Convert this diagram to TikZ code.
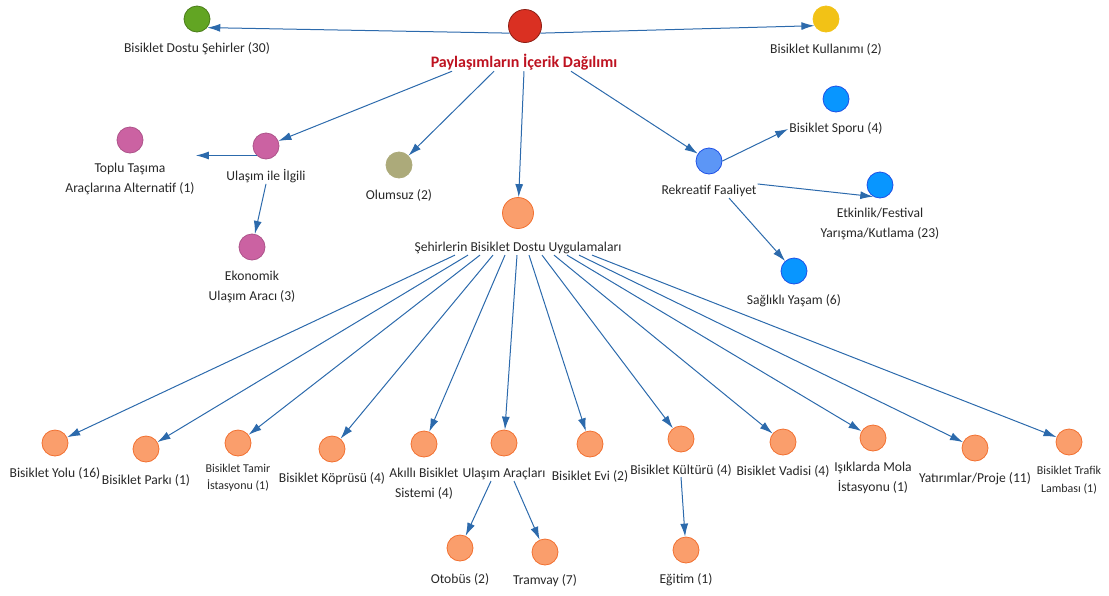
\documentclass[tikz,border=0pt]{standalone}
\usepackage{fontspec}
\setmainfont{Carlito}
\usetikzlibrary{arrows.meta}
\definecolor{linkblue}{RGB}{44,106,172}
\definecolor{textgray}{RGB}{40,40,40}
\definecolor{rootred}{RGB}{218,48,34}
\definecolor{rootline}{RGB}{140,30,20}
\definecolor{roottext}{RGB}{190,18,32}
\definecolor{leafgreen}{RGB}{98,165,35}
\definecolor{leafyellow}{RGB}{242,194,22}
\definecolor{leafpink}{RGB}{203,98,162}
\definecolor{leafolive}{RGB}{172,170,122}
\definecolor{leaforange}{RGB}{250,158,108}
\definecolor{orangeline}{RGB}{242,112,48}
\definecolor{rekblue}{RGB}{92,150,246}
\definecolor{skyblue}{RGB}{8,150,255}
\definecolor{blueline}{RGB}{30,80,230}
\tikzstyle{vertex}=[circle, minimum size=26pt, inner sep=0pt, line width=0.8pt]
\tikzstyle{rootv}=[vertex, minimum size=33pt, fill=rootred, draw=rootline]
\tikzstyle{greenv}=[vertex, fill=leafgreen, draw=leafgreen!75!black]
\tikzstyle{yellowv}=[vertex, fill=leafyellow, draw=leafyellow]
\tikzstyle{pinkv}=[vertex, fill=leafpink, draw=leafpink!85!black]
\tikzstyle{olivev}=[vertex, fill=leafolive, draw=leafolive]
\tikzstyle{orangev}=[vertex, fill=leaforange, draw=orangeline]
\tikzstyle{rekv}=[vertex, fill=rekblue, draw=blueline]
\tikzstyle{bluev}=[vertex, fill=skyblue, draw=blueline]
\tikzstyle{nodetext}=[font=\fontsize{13.6}{20}\selectfont, text=textgray, align=center, inner sep=1pt]
\tikzstyle{smalltext}=[nodetext, font=\fontsize{12}{17.5}\selectfont]
\tikzstyle{link}=[-{Latex[length=13pt, width=8pt]}, draw=linkblue, line width=1pt]

\begin{document}
\begin{tikzpicture}[x=1pt, y=-1pt]
\useasboundingbox (0, 0) rectangle (1109, 595);
\node[rootv] at (525, 26) (r) {};
\node[nodetext, font=\fontsize{16}{20}\selectfont\bfseries, text=roottext] at (524, 62) (rl) {Paylaşımların İçerik Dağılımı};
\node[greenv] at (197, 19) (bds) {};
\node[nodetext] at (197, 49) (bdsl) {Bisiklet Dostu Şehirler (30)};
\node[yellowv] at (826, 19) (bk) {};
\node[nodetext] at (826, 49) (bkl) {Bisiklet Kullanımı (2)};
\node[pinkv] at (266, 146) (ui) {};
\node[nodetext] at (266, 176) (uil) {Ulaşım ile İlgili};
\node[pinkv] at (130, 140) (tt) {};
\node[nodetext] at (130, 179) (ttl) {Toplu Taşıma\\Araçlarına Alternatif (1)};
\node[pinkv] at (252, 247) (eu) {};
\node[nodetext] at (252, 287) (eul) {Ekonomik\\Ulaşım Aracı (3)};
\node[olivev] at (399, 165) (ol) {};
\node[nodetext] at (399, 195) (oll) {Olumsuz (2)};
\node[orangev, minimum size=31pt] at (518, 213) (sb) {};
\node[nodetext] at (518, 248) (sbl) {Şehirlerin Bisiklet Dostu Uygulamaları};
\node[rekv] at (709, 161) (rf) {};
\node[nodetext] at (709, 191) (rfl) {Rekreatif Faaliyet};
\node[bluev] at (836, 99) (bs) {};
\node[nodetext] at (836, 129) (bsl) {Bisiklet Sporu (4)};
\node[bluev] at (880, 185) (ef) {};
\node[nodetext] at (880, 224) (efl) {Etkinlik/Festival\\Yarışma/Kutlama (23)};
\node[bluev] at (794, 271) (sy) {};
\node[nodetext] at (794, 301) (syl) {Sağlıklı Yaşam (6)};
\node[orangev] at (55, 443) (yol) {};
\node[nodetext] at (55, 473) (yoll) {Bisiklet Yolu (16)};
\node[orangev] at (146, 449) (park) {};
\node[nodetext] at (146, 480) (parkl) {Bisiklet Parkı (1)};
\node[orangev] at (238, 443) (tamir) {};
\node[smalltext] at (238, 478) (tamirl) {Bisiklet Tamir\\İstasyonu (1)};
\node[orangev] at (332, 449) (kopru) {};
\node[nodetext] at (332, 479) (koprul) {Bisiklet Köprüsü (4)};
\node[orangev] at (424, 444) (akilli) {};
\node[nodetext] at (424, 484) (akillil) {Akıllı Bisiklet\\Sistemi (4)};
\node[orangev] at (504, 443) (ua) {};
\node[nodetext] at (504, 474) (ual) {Ulaşım Araçları};
\node[orangev] at (590, 444) (evi) {};
\node[nodetext] at (590, 476) (evil) {Bisiklet Evi (2)};
\node[orangev] at (681, 439) (kultur) {};
\node[nodetext] at (681, 470) (kulturl) {Bisiklet Kültürü (4)};
\node[orangev] at (783, 442) (vadi) {};
\node[nodetext] at (783, 471) (vadil) {Bisiklet Vadisi (4)};
\node[orangev] at (873, 438) (mola) {};
\node[nodetext] at (873, 478) (molal) {Işıklarda Mola\\İstasyonu (1)};
\node[orangev] at (975, 448) (proje) {};
\node[nodetext] at (975, 479) (projel) {Yatırımlar/Proje (11)};
\node[orangev] at (1069, 442) (trafik) {};
\node[smalltext] at (1069, 480) (trafikl) {Bisiklet Trafik\\Lambası (1)};
\node[orangev] at (460, 548) (otobus) {};
\node[nodetext] at (460, 579) (otobusl) {Otobüs (2)};
\node[orangev] at (545, 552) (tramvay) {};
\node[nodetext] at (545, 581) (tramvayl) {Tramvay (7)};
\node[orangev] at (686, 550) (egitim) {};
\node[nodetext] at (686, 580) (egitiml) {Eğitim (1)};
\draw[link] (r.205) -- (bds.-40);
\draw[link] (r.-25) -- (bk.210);
\draw[link] ([xshift=-72pt]rl.south) -- (ui);
\draw[link] ([xshift=-30pt]rl.south) -- (ol);
\draw[link] (rl.south) -- (sb);
\draw[link] ([xshift=47pt]rl.south) -- (rf);
\draw[link] (ui.south west) -- (ui.south west -| ttl.east);
\draw[link] (uil.south) -- (eu);
\draw[link] (rf.east) -- (bsl.west);
\draw[link] (rfl.north east) -- (ef.240);
\draw[link] ([xshift=20pt]rfl.south) -- (sy);
\draw[link] ([xshift=-63pt]sbl.south) -- (yol);
\draw[link] ([xshift=-50pt]sbl.south) -- (park);
\draw[link] ([xshift=-38pt]sbl.south) -- (tamir);
\draw[link] ([xshift=-25pt]sbl.south) -- (kopru);
\draw[link] ([xshift=-13pt]sbl.south) -- (akilli);
\draw[link] ([xshift=-1pt]sbl.south) -- (ua);
\draw[link] ([xshift=11pt]sbl.south) -- (evi);
\draw[link] ([xshift=24pt]sbl.south) -- (kultur);
\draw[link] ([xshift=36pt]sbl.south) -- (vadi);
\draw[link] ([xshift=49pt]sbl.south) -- (mola);
\draw[link] ([xshift=61pt]sbl.south) -- (proje);
\draw[link] ([xshift=74pt]sbl.south) -- (trafik);
\draw[link] ([xshift=-13pt]ual.south) -- (otobus);
\draw[link] ([xshift=10pt]ual.south) -- (tramvay);
\draw[link] (kulturl.south) -- (egitim);
\end{tikzpicture}
\end{document}
